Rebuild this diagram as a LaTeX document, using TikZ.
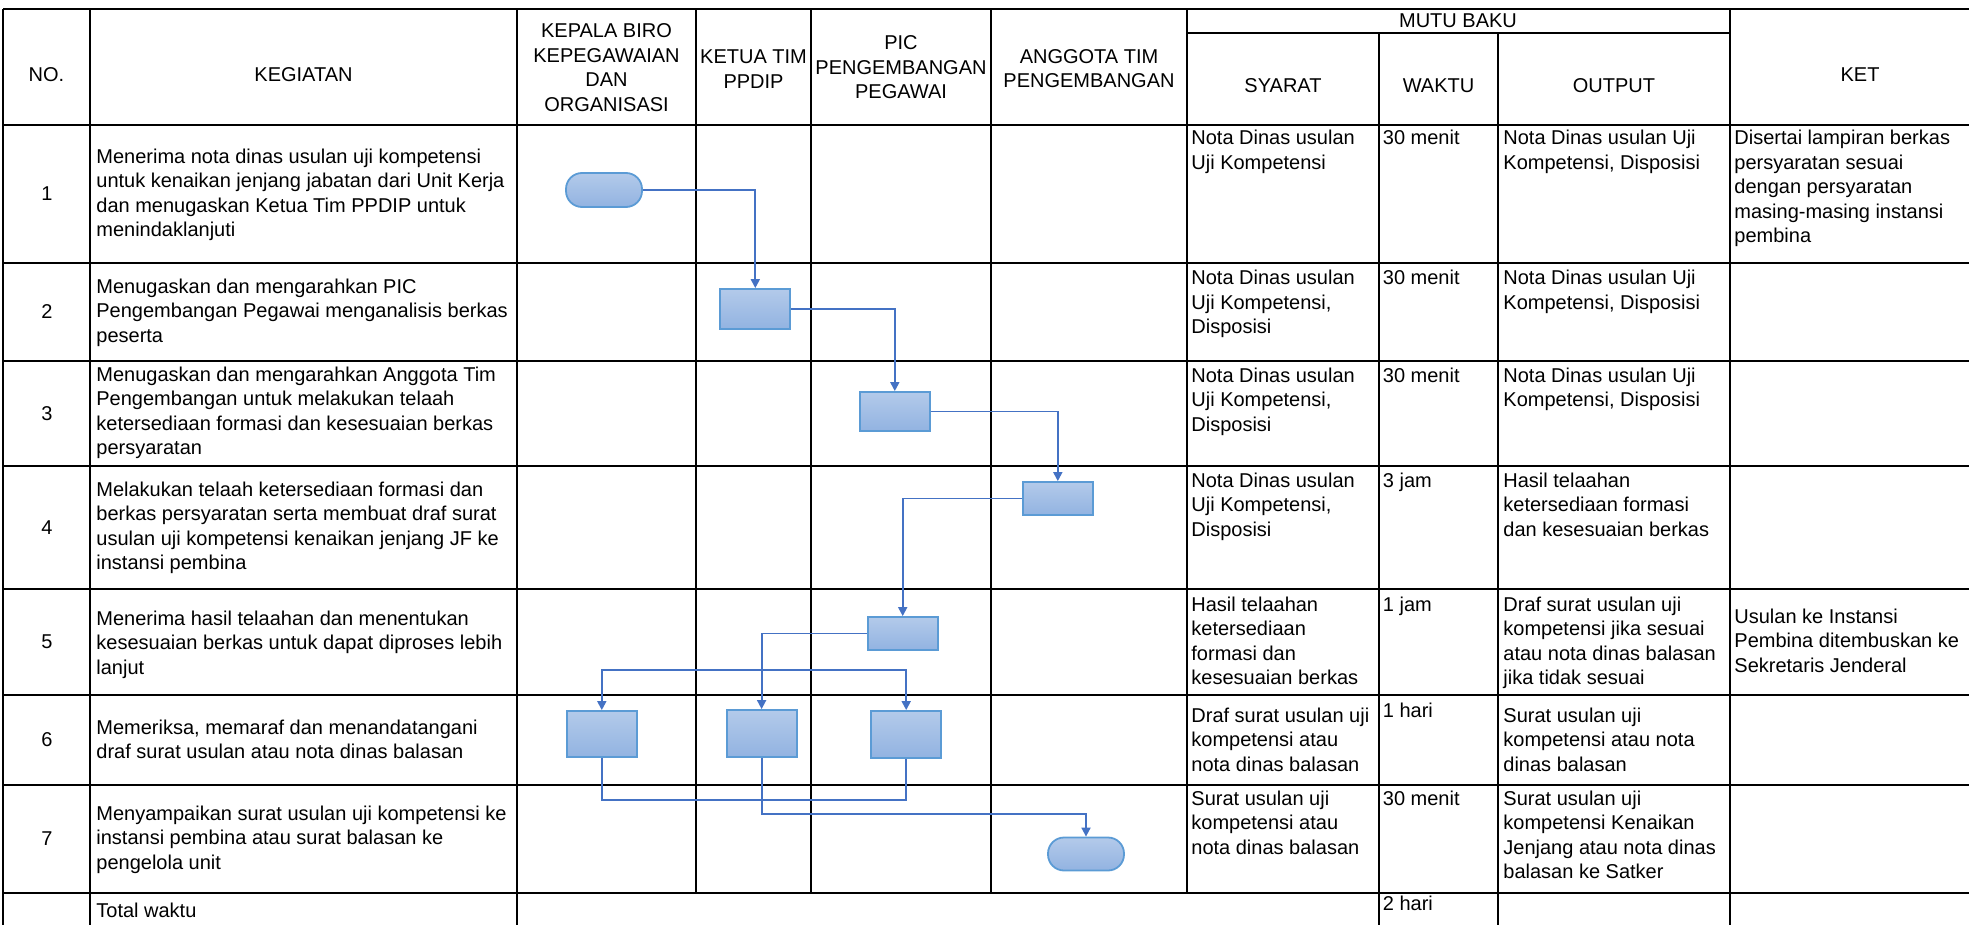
\documentclass[tikz,border=0pt]{standalone}
\usepackage{fontspec}
\setmainfont{Liberation Sans}
\usepackage{tikz}
\usetikzlibrary{arrows.meta,positioning,calc}
\definecolor{sopline}{HTML}{4472C4}
\definecolor{sopedge}{HTML}{5B9BD5}
\definecolor{soptop}{HTML}{B3CAEA}
\definecolor{sopbot}{HTML}{92B3E1}
\newcommand{\ltab}[1]{\begin{tabular}[t]{@{}l@{}}#1\end{tabular}}
\newcommand{\ctab}[1]{\begin{tabular}[t]{@{}c@{}}#1\end{tabular}}

\begin{document}
\begin{tikzpicture}[x=0.5pt, y=-0.5pt, font=\fontsize{10}{12.25}\selectfont,
  tline/.style={line width=1.3pt, draw=black},
  txt/.style={anchor=base west, inner sep=0pt},
  hd/.style={anchor=base, inner sep=0pt},
  act/.style={rectangle, draw=sopedge, line width=0.9pt, top color=soptop, bottom color=sopbot, minimum width=35pt, minimum height=20pt, inner sep=0pt},
  term/.style={act, rounded corners=8pt, minimum width=38pt, minimum height=17pt},
  arr/.style={-{Triangle[length=4.5pt,width=4.5pt]}, line width=0.9pt, draw=sopline},
  conn/.style={line width=0.9pt, draw=sopline}]
\useasboundingbox (0,0) rectangle (1969,925);
\draw[tline] (3,9) -- (1969,9);
\draw[tline] (1187,33) -- (1730,33);
\draw[tline] (3,125) -- (1969,125);
\draw[tline] (3,263) -- (1969,263);
\draw[tline] (3,361) -- (1969,361);
\draw[tline] (3,466) -- (1969,466);
\draw[tline] (3,589) -- (1969,589);
\draw[tline] (3,695) -- (1969,695);
\draw[tline] (3,785) -- (1969,785);
\draw[tline] (3,893) -- (1969,893);
\draw[tline] (3,9) -- (3,925);
\draw[tline] (90,9) -- (90,925);
\draw[tline] (517,9) -- (517,925);
\draw[tline] (696,9) -- (696,893);
\draw[tline] (811,9) -- (811,893);
\draw[tline] (991,9) -- (991,893);
\draw[tline] (1187,9) -- (1187,893);
\draw[tline] (1379,33) -- (1379,925);
\draw[tline] (1498,33) -- (1498,925);
\draw[tline] (1730,9) -- (1730,925);
\node[hd] (hno) at (46.5,82) {NO.};
\node[hd] (hkeg) at (303.5,82) {KEGIATAN};
\node[hd] (hkepala) at (606.5,38) {\ctab{KEPALA BIRO\\KEPEGAWAIAN\\DAN\\ORGANISASI}};
\node[hd] (hketua) at (753.5,64) {\ctab{KETUA TIM\\PPDIP}};
\node[hd] (hpic) at (901,50) {\ctab{PIC\\PENGEMBANGAN\\PEGAWAI}};
\node[hd] (hanggota) at (1089,63.5) {\ctab{ANGGOTA TIM\\PENGEMBANGAN}};
\node[hd] (hmutu) at (1458,28) {MUTU BAKU};
\node[hd] (hsyarat) at (1283,93) {SYARAT};
\node[hd] (hwaktu) at (1438.5,93) {WAKTU};
\node[hd] (houtput) at (1614,93) {OUTPUT};
\node[hd] (hket) at (1860,82) {KET};
\node[hd] (n1) at (47,200.5) {1};
\node[hd] (n2) at (47,318.5) {2};
\node[hd] (n3) at (47,420) {3};
\node[hd] (n4) at (47,534) {4};
\node[hd] (n5) at (47,648.5) {5};
\node[hd] (n6) at (47,746.5) {6};
\node[hd] (n7) at (47,845.5) {7};
\node[txt] (k1) at (96,163.5) {\ltab{Menerima nota dinas usulan uji kompetensi\\untuk kenaikan jenjang jabatan dari Unit Kerja\\dan menugaskan Ketua Tim PPDIP untuk\\menindaklanjuti}};
\node[txt] (k2) at (96,293) {\ltab{Menugaskan dan mengarahkan PIC\\Pengembangan Pegawai menganalisis berkas\\peserta}};
\node[txt] (k3) at (96,381) {\ltab{Menugaskan dan mengarahkan Anggota Tim\\Pengembangan untuk melakukan telaah\\ketersediaan formasi dan kesesuaian berkas\\persyaratan}};
\node[txt] (k4) at (96,496) {\ltab{Melakukan telaah ketersediaan formasi dan\\berkas persyaratan serta membuat draf surat\\usulan uji kompetensi kenaikan jenjang JF ke\\instansi pembina}};
\node[txt] (k5) at (96,625) {\ltab{Menerima hasil telaahan dan menentukan\\kesesuaian berkas untuk dapat diproses lebih\\lanjut}};
\node[txt] (k6) at (96,734) {\ltab{Memeriksa, memaraf dan menandatangani\\draf surat usulan atau nota dinas balasan}};
\node[txt] (k7) at (96,820) {\ltab{Menyampaikan surat usulan uji kompetensi ke\\instansi pembina atau surat balasan ke\\pengelola unit}};
\node[txt] (kt) at (96,917) {Total waktu};
\node[txt] (s1) at (1191,145) {\ltab{Nota Dinas usulan\\Uji Kompetensi}};
\node[txt] (s2) at (1191,285) {\ltab{Nota Dinas usulan\\Uji Kompetensi,\\Disposisi}};
\node[txt] (s3) at (1191,382) {\ltab{Nota Dinas usulan\\Uji Kompetensi,\\Disposisi}};
\node[txt] (s4) at (1191,487) {\ltab{Nota Dinas usulan\\Uji Kompetensi,\\Disposisi}};
\node[txt] (s5) at (1191,611) {\ltab{Hasil telaahan\\ketersediaan\\formasi dan\\kesesuaian berkas}};
\node[txt] (s6) at (1191,722) {\ltab{Draf surat usulan uji\\kompetensi atau\\nota dinas balasan}};
\node[txt] (s7) at (1191,805) {\ltab{Surat usulan uji\\kompetensi atau\\nota dinas balasan}};
\node[txt] (w1) at (1382.5,145) {30 menit};
\node[txt] (w2) at (1382.5,285) {30 menit};
\node[txt] (w3) at (1382.5,382) {30 menit};
\node[txt] (w4) at (1382.5,487) {3 jam};
\node[txt] (w5) at (1382.5,611) {1 jam};
\node[txt] (w6) at (1382.5,717) {1 hari};
\node[txt] (w7) at (1382.5,805) {30 menit};
\node[txt] (wt) at (1382.5,910) {2 hari};
\node[txt] (o1) at (1503,145) {\ltab{Nota Dinas usulan Uji\\Kompetensi, Disposisi}};
\node[txt] (o2) at (1503,285) {\ltab{Nota Dinas usulan Uji\\Kompetensi, Disposisi}};
\node[txt] (o3) at (1503,382) {\ltab{Nota Dinas usulan Uji\\Kompetensi, Disposisi}};
\node[txt] (o4) at (1503,487) {\ltab{Hasil telaahan\\ketersediaan formasi\\dan kesesuaian berkas}};
\node[txt] (o5) at (1503,611) {\ltab{Draf surat usulan uji\\kompetensi jika sesuai\\atau nota dinas balasan\\jika tidak sesuai}};
\node[txt] (o6) at (1503,722) {\ltab{Surat usulan uji\\kompetensi atau nota\\dinas balasan}};
\node[txt] (o7) at (1503,805) {\ltab{Surat usulan uji\\kompetensi Kenaikan\\Jenjang atau nota dinas\\balasan ke Satker}};
\node[txt] (c1) at (1734,145) {\ltab{Disertai lampiran berkas\\persyaratan sesuai\\dengan persyaratan\\masing-masing instansi\\pembina}};
\node[txt] (c5) at (1734,623) {\ltab{Usulan ke Instansi\\Pembina ditembuskan ke\\Sekretaris Jenderal}};
\coordinate (cabang) at (761.6,670);
\node[term] (mulai) at (604,190) {};
\node[act] (p2) at (755.3,309) {};
\node[act, minimum height=19.5pt] (p3) at (894.8,411.5) {};
\node[act, minimum height=16.5pt] (p4) at (1057.8,498.5) {};
\node[act, minimum height=16.5pt] (p5) at (902.7,633.5) {};
\node[act, minimum height=23pt] (p6a) at (601.8,734) {};
\node[act, minimum height=23.5pt] (p6b) at (761.6,733.5) {};
\node[act, minimum height=23.5pt] (p6c) at (906.2,734.5) {};
\node[term, minimum height=16.5pt] (selesai) at (1086,854) {};
\draw[arr] (mulai) -| (p2);
\draw[arr] (p2) -| (p3);
\draw[arr] (p3) -| (p4);
\draw[arr] (p4) -| (p5);
\draw[arr] (p5) -| (p6b);
\draw[arr] (cabang) -| (p6a);
\draw[arr] (cabang) -| (p6c);
\draw[conn] (p6a.south) -- ++(0,42) -| (p6c.south);
\draw[arr] (p6b.south) -- ++(0,56) -| (selesai);
\end{tikzpicture}
\end{document}
